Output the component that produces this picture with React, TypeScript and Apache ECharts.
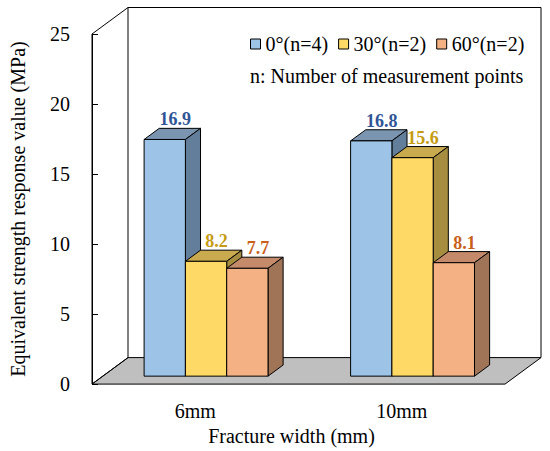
import React, { useEffect, useRef } from "react";
import * as echarts from "echarts";

const categories = ["6mm", "10mm"];
const seriesNames = ["0°(n=4)", "30°(n=2)", "60°(n=2)"];
const values0 = [16.9, 16.8];
const values30 = [8.2, 15.6];
const values60 = [7.7, 8.1];
const yMin = 0;
const yMax = 25;
const yInterval = 5;

const allValues = [values0, values30, values60];

// styles
const FRONT = ["#9DC3E6", "#FFD966", "#F4B183"];
const TOP = ["#7B95B1", "#C9AA4F", "#C48A6A"];
const SIDE = ["#637E9A", "#A68D40", "#A07456"];
const LABEL = ["#2F5597", "#C59B12", "#C9601A"];
const DX = 36;
const DY = 26.5;
const F1 = 0.3;
const F2 = 0.72;
const BAR_FRAC = 0.2;
const SERIF = "Liberation Serif";

export default function App() {
  const ref = useRef<HTMLDivElement>(null);
  useEffect(() => {
    if (!ref.current) return;
    const chart = echarts.init(ref.current, undefined, { renderer: "svg" });

    const frameSeries: any = {
      type: "custom",
      name: "__frame",
      silent: true,
      z: 1,
      data: [[0, 0]],
      renderItem: (params: any, api: any) => {
        const cs = params.coordSys;
        const x0 = cs.x;
        const x1 = cs.x + cs.width;
        const yTop = api.coord([0, yMax])[1];
        const yBot = api.coord([0, yMin])[1];
        const line = { stroke: "#000", lineWidth: 1, fill: "none" };
        return {
          type: "group",
          children: [
            {
              type: "polygon",
              shape: {
                points: [
                  [x0, yBot],
                  [x1, yBot],
                  [x1 + DX, yBot - DY],
                  [x0 + DX, yBot - DY],
                ],
              },
              style: { fill: "#BFBFBF", stroke: "#000", lineWidth: 1 },
            },
            {
              type: "polygon",
              shape: {
                points: [
                  [x0, yTop],
                  [x0 + DX, yTop - DY],
                  [x0 + DX, yBot - DY],
                  [x0, yBot],
                ],
              },
              style: line,
            },
            {
              type: "polyline",
              shape: {
                points: [
                  [x0 + DX, yTop - DY],
                  [x1 + DX, yTop - DY],
                  [x1 + DX, yBot - DY],
                ],
              },
              style: line,
            },
          ],
        };
      },
    };

    const barSeries = allValues.map((vals, si) => ({
      type: "custom",
      name: seriesNames[si],
      z: 2,
      itemStyle: { color: FRONT[si] },
      data: vals.map((v, i) => [i, v]),
      renderItem: (params: any, api: any) => {
        const ci = api.value(0);
        const v = api.value(1);
        const top = api.coord([ci, v]);
        const base = api.coord([ci, 0]);
        const catW = api.size([1, 0])[0];
        const bw = catW * BAR_FRAC;
        const L = top[0] - 1.5 * bw + si * bw;
        const ox1 = DX * F1, oy1 = DY * F1;
        const ox2 = DX * F2, oy2 = DY * F2;
        const yv = top[1];
        const y0 = base[1];
        const st = { stroke: "#000", lineWidth: 1 };
        return {
          type: "group",
          children: [
            {
              type: "polygon",
              shape: {
                points: [
                  [L + ox1, yv - oy1],
                  [L + bw + ox1, yv - oy1],
                  [L + bw + ox2, yv - oy2],
                  [L + ox2, yv - oy2],
                ],
              },
              style: { ...st, fill: TOP[si] },
            },
            {
              type: "polygon",
              shape: {
                points: [
                  [L + bw + ox1, yv - oy1],
                  [L + bw + ox2, yv - oy2],
                  [L + bw + ox2, y0 - oy2],
                  [L + bw + ox1, y0 - oy1],
                ],
              },
              style: { ...st, fill: SIDE[si] },
            },
            {
              type: "rect",
              shape: { x: L + ox1, y: yv - oy1, width: bw, height: y0 - yv },
              style: { ...st, fill: FRONT[si] },
            },
            {
              type: "text",
              style: {
                text: v.toFixed(1),
                x: (L + ox1 + L + bw + ox2) / 2 + 3,
                y: yv - oy2 - 9,
                align: "center",
                verticalAlign: "middle",
                fill: LABEL[si],
                fontFamily: SERIF,
                fontWeight: "bold",
                fontSize: 18,
              },
            },
          ],
        };
      },
    }));

    chart.setOption({
      animation: false,
      backgroundColor: "#fff",
      textStyle: { fontFamily: SERIF },
      grid: { left: 82, right: 45, top: 34, bottom: 63 },
      legend: {
        left: 245,
        top: 29,
        itemWidth: 10,
        itemHeight: 10,
        itemGap: 10,
        icon: "rect",
        data: seriesNames.map((n, i) => ({
          name: n,
          itemStyle: { color: FRONT[i], borderColor: "#000", borderWidth: 1 },
        })),
        textStyle: { fontFamily: SERIF, fontSize: 20, color: "#000" },
        selectedMode: false,
      },
      graphic: [
        {
          type: "text",
          left: 250,
          top: 66,
          style: {
            text: "n: Number of measurement points",
            fontFamily: SERIF,
            fontSize: 20,
            fill: "#000",
          },
        },
      ],
      xAxis: {
        type: "category",
        data: categories,
        axisLine: { show: false },
        axisTick: { show: false },
        axisLabel: { fontSize: 20, color: "#000", margin: 17, fontFamily: SERIF },
        name: "Fracture width (mm)",
        nameLocation: "middle",
        nameGap: 34,
        nameTextStyle: { fontSize: 20, color: "#000", fontFamily: SERIF, padding: [0, 14, 0, 0] },
        splitLine: { show: false },
      },
      yAxis: {
        type: "value",
        min: yMin,
        max: yMax,
        interval: yInterval,
        axisLine: { show: true, lineStyle: { color: "#000", width: 1 } },
        axisTick: { show: true, inside: true, length: 6, lineStyle: { color: "#000" } },
        axisLabel: { fontSize: 20, color: "#000", margin: 22, fontFamily: SERIF },
        splitLine: { show: false },
        name: "Equivalent strength response value (MPa)",
        nameLocation: "middle",
        nameGap: 64,
        nameTextStyle: { fontSize: 20, color: "#000", fontFamily: SERIF },
      },
      series: [frameSeries, ...barSeries],
    });
    return () => chart.dispose();
  }, []);
  return (
    <div
      ref={ref}
      style={{ position: "absolute", left: 0, top: 0, width: 550, height: 451 }}
    />
  );
}
